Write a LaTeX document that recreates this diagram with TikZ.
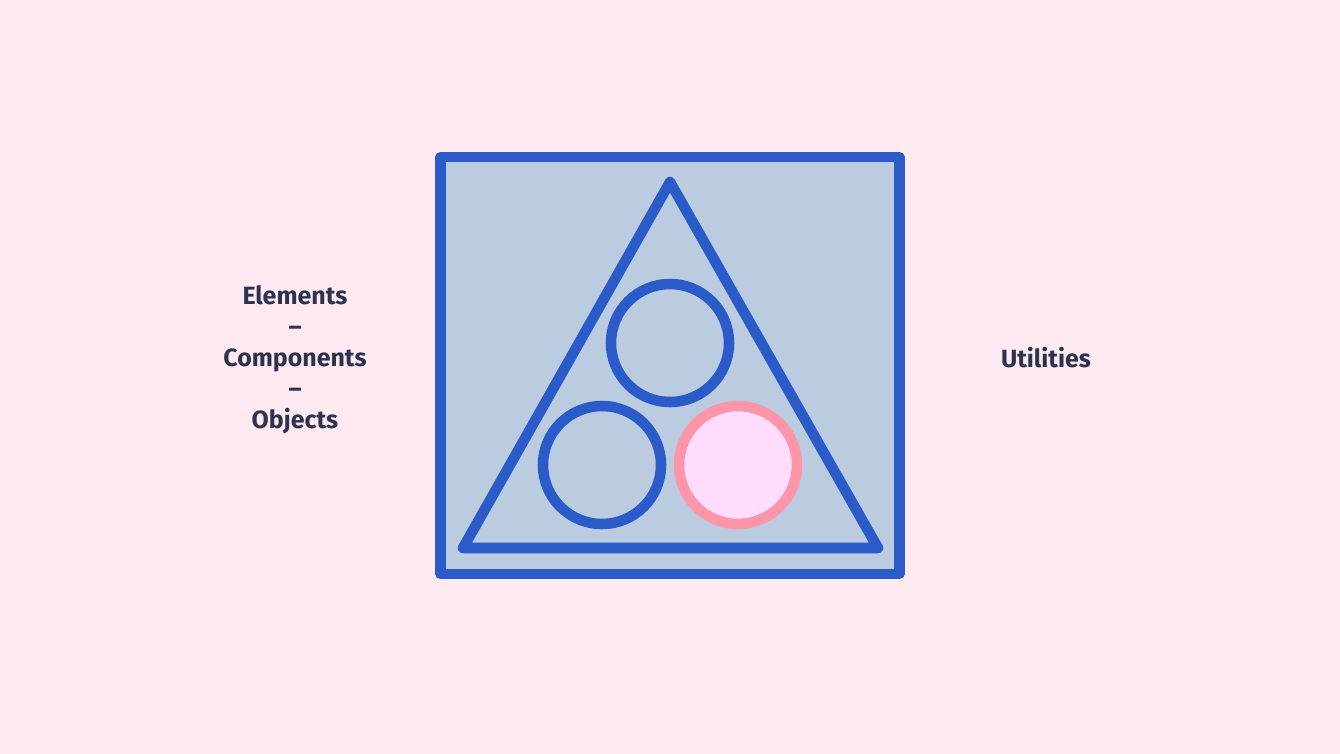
\documentclass[tikz,border=0pt]{standalone}
\usepackage{fontspec}
\setmainfont{Fira Sans}
\usepackage{tikz}
\usetikzlibrary{positioning, calc}
\definecolor{bgpink}{HTML}{FFEAF2}
\definecolor{boxfill}{HTML}{BBCCE0}
\definecolor{boxline}{HTML}{2A5BC8}
\definecolor{ringpink}{HTML}{FF95A8}
\definecolor{ringfill}{HTML}{FFDCFB}
\definecolor{txt}{HTML}{2B3350}

\begin{document}
\begin{tikzpicture}[
      x=0.02cm, y=-0.02cm,
      frame/.style={draw=boxline, fill=boxfill, line width=6pt, line join=round},
      tri/.style={draw=boxline, line width=6pt, line join=round},
      ring/.style={circle, draw=boxline, line width=6pt, minimum size=2.36cm, inner sep=0pt},
      hot/.style={circle, draw=ringpink, fill=ringfill, line width=6pt, minimum size=2.36cm, inner sep=0pt},
      lbl/.style={text=txt, align=center, font=\fontsize{14.2}{17.6}\selectfont\bfseries}
    ]
    % --- background ---
    \fill[bgpink] (0,0) rectangle (1340,754);

    % --- square and triangle ---
    \draw[frame] (440.5,157) rectangle (899.5,574);
    \draw[tri] (670,182) -- (878,548) -- (463,548) -- cycle;

    % --- circles ---
    \node[ring] (top)   at (670,343) {};
    \node[ring] (left)  at (602,465) {};
    \node[hot]  (right) at (738,465) {};

    % --- labels ---
    \node[lbl] (ecos) at (295,360) {Elements\\–\\Components\\–\\Objects};
    \node[lbl] (util) at (1046,358) {Utilities};

  \end{tikzpicture}
\end{document}
